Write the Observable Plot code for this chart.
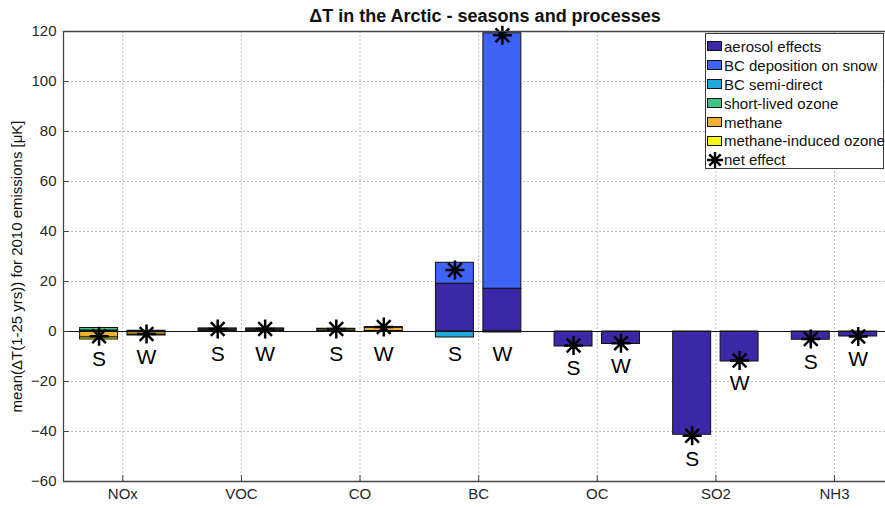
<!DOCTYPE html>
<html>
<head>
<meta charset="utf-8">
<script src="https://cdn.jsdelivr.net/npm/d3@7"></script>
<script src="https://cdn.jsdelivr.net/npm/@observablehq/plot@0.6"></script>
<style>
  body { margin: 0; background: #fff; }
  #chart { position: relative; width: 885px; height: 508px; overflow: hidden;
           font-family: "Liberation Sans", Arial, sans-serif; color: #262626; }
  #chart > svg { position: absolute; left: 0; top: 0; }
  #title { position: absolute; left: 70px; width: 830px; top: 5px; line-height: 22px; text-align: center; z-index: 2;
           font-weight: bold; font-size: 18px; color: #111; }
  #legend { position: absolute; left: 705px; top: 33px; width: 179px; height: 136px; z-index: 2;
            border: 1px solid #3a3a3a; background: #fff; box-sizing: border-box;
            padding-top: 3px; font-size: 15px; color: #111; }
  .entry { display: flex; align-items: center; height: 18.9px; white-space: nowrap; }
  .sw { width: 15px; height: 10px; box-sizing: border-box; border: 1px solid #111;
        margin-left: 1px; margin-right: 2px; flex: none; }
</style>
</head>
<body>
<div id="chart">
  <div id="title">ΔT in the Arctic - seasons and processes</div>
</div>
<script>
// Emitted species (x categories) and the two seasons drawn per species
const species = ["NOx", "VOC", "CO", "BC", "OC", "SO2", "NH3"];
const seasons = ["S", "W"];

// Processes stacked in each bar, with their fill colours
const processes = ["aerosol effects", "BC deposition on snow", "BC semi-direct",
                   "short-lived ozone", "methane", "methane-induced ozone"];
const processColors = ["#3b28a6", "#3f63f5", "#1ea8dc", "#3ec485", "#eeb133", "#f6f61a"];

// Contribution per species as [summer, winter], in µK
const aerosolEffects   = [[0.4, -0.3], [0.3, 0.3], [0, 0], [19.1, 17.1], [-6.0, -5.0], [-41.3, -12.0], [-3.3, -2.0]];
const bcSnow           = [[0, 0], [0, 0], [0, 0], [8.4, 102.2], [0, 0], [0, 0], [0, 0]];
const bcSemiDirect     = [[0, 0], [0, 0], [0, 0], [-2.4, -0.4], [0, 0], [0, 0], [0, 0]];
const shortLivedOzone  = [[1.0, 0.3], [0.5, 0.5], [0.3, 0.2], [0, 0], [0, 0], [0, 0], [0, 0]];
const methane          = [[-2.4, -1.0], [0.3, 0.3], [0.6, 1.3], [0, 0], [0, 0], [0, 0], [0, 0]];
const methaneOzone     = [[-0.8, -0.3], [0.1, 0.1], [0.2, 0.3], [0, 0], [0, 0], [0, 0], [0, 0]];

// Net effect (asterisks), [summer, winter]
const netEffect = [[-1.9, -1.0], [1.0, 1.0], [1.0, 1.8], [24.6, 118.5], [-5.6, -4.7], [-41.7, -11.6], [-3.0, -2.0]];

// Axis ticks
const yTicks = [-60, -40, -20, 0, 20, 40, 60, 80, 100, 120];
const xTicks = [1, 2, 3, 4, 5, 6, 7];
const yLabel = "mean(ΔT(1-25 yrs)) for 2010 emissions [μK]";

const processValues = [aerosolEffects, bcSnow, bcSemiDirect, shortLivedOzone, methane, methaneOzone];

// Bar placement within each category (in category units)
const seasonOffset = [-0.2, 0.2];
const halfWidth = 0.16;

// Build stacked segments: positives stack upward, negatives downward
const segments = [];
const netPoints = [];
const seasonLabels = [];
species.forEach((sp, i) => {
  seasons.forEach((se, j) => {
    const xc = i + 1 + seasonOffset[j];
    let pos = 0, neg = 0;
    processes.forEach((p, k) => {
      const v = processValues[k][i][j];
      if (v === 0) return;
      if (v > 0) { segments.push({x1: xc - halfWidth, x2: xc + halfWidth, y1: pos, y2: pos + v, process: p}); pos += v; }
      else       { segments.push({x1: xc - halfWidth, x2: xc + halfWidth, y1: neg, y2: neg + v, process: p}); neg += v; }
    });
    const net = netEffect[i][j];
    netPoints.push({x: xc, y: net});
    seasonLabels.push({x: xc, y: Math.min(net, 0) - 9.3, text: se});
  });
});

// Eight-armed asterisk marker
const asterisk = {
  draw(ctx, size) {
    const r = Math.sqrt(size / Math.PI);
    const d = r * 0.72;
    ctx.moveTo(0, -r); ctx.lineTo(0, r);
    ctx.moveTo(-r, 0); ctx.lineTo(r, 0);
    ctx.moveTo(-d, -d); ctx.lineTo(d, d);
    ctx.moveTo(-d, d); ctx.lineTo(d, -d);
  }
};

const gridStyle = {stroke: "#bcbcbc", strokeOpacity: 1, strokeDasharray: "2,2", strokeWidth: 1};

const chart = Plot.plot({
  width: 885,
  height: 508,
  marginLeft: 63,
  marginRight: 0,
  marginTop: 31,
  marginBottom: 27,
  x: {domain: [0.5, 7.43]},
  y: {domain: [-60, 120]},
  style: {fontFamily: "'Liberation Sans', Arial, sans-serif", fontSize: "15px", color: "#262626", background: "#fff"},
  marks: [
    Plot.gridY(yTicks, gridStyle),
    Plot.gridX(xTicks, gridStyle),
    Plot.rect(segments, {
      x1: "x1", x2: "x2", y1: "y1", y2: "y2",
      fill: d => processColors[processes.indexOf(d.process)],
      stroke: "#111", strokeWidth: 1
    }),
    Plot.ruleY([0], {stroke: "#111", strokeWidth: 1.2}),
    Plot.dot(netPoints, {x: "x", y: "y", symbol: asterisk, r: 9.5, fill: "none", stroke: "#000", strokeWidth: 2.5}),
    Plot.text(seasonLabels, {x: "x", y: "y", text: "text", fontSize: 21, lineAnchor: "middle", fill: "#000"}),
    Plot.axisY(yTicks, {tickSize: -6, tickPadding: 13, label: null, fontSize: 15, stroke: "#444"}),
    Plot.axisX(xTicks, {tickSize: -6, tickPadding: 13, label: null, fontSize: 15, stroke: "#444",
                        tickFormat: v => species[v - 1]}),
    Plot.ruleY([120, -60], {stroke: "#444", strokeWidth: 1.3}),
    Plot.ruleX([0.5], {stroke: "#444", strokeWidth: 1.3}),
    Plot.text([yLabel], {frameAnchor: "left", textAnchor: "middle", text: d => d, rotate: -90,
                         dx: -46, dy: 10, fontSize: 15, fill: "#111"})
  ]
});
document.getElementById("chart").appendChild(chart);

// Legend box inside the plot area
const legend = document.createElement("div");
legend.id = "legend";
processes.forEach((p, k) => {
  const row = document.createElement("div");
  row.className = "entry";
  const sw = document.createElement("span");
  sw.className = "sw";
  sw.style.background = processColors[k];
  row.appendChild(sw);
  row.appendChild(document.createTextNode(p));
  legend.appendChild(row);
});
const netRow = document.createElement("div");
netRow.className = "entry";
netRow.innerHTML = `<svg width="18" height="18" style="flex:none"><path d="M9,1V17M1,9H17M3.3,3.3L14.7,14.7M3.3,14.7L14.7,3.3" stroke="#000" stroke-width="2.4" fill="none"/></svg>net effect`;
legend.appendChild(netRow);
document.getElementById("chart").appendChild(legend);
</script>
</body>
</html>
